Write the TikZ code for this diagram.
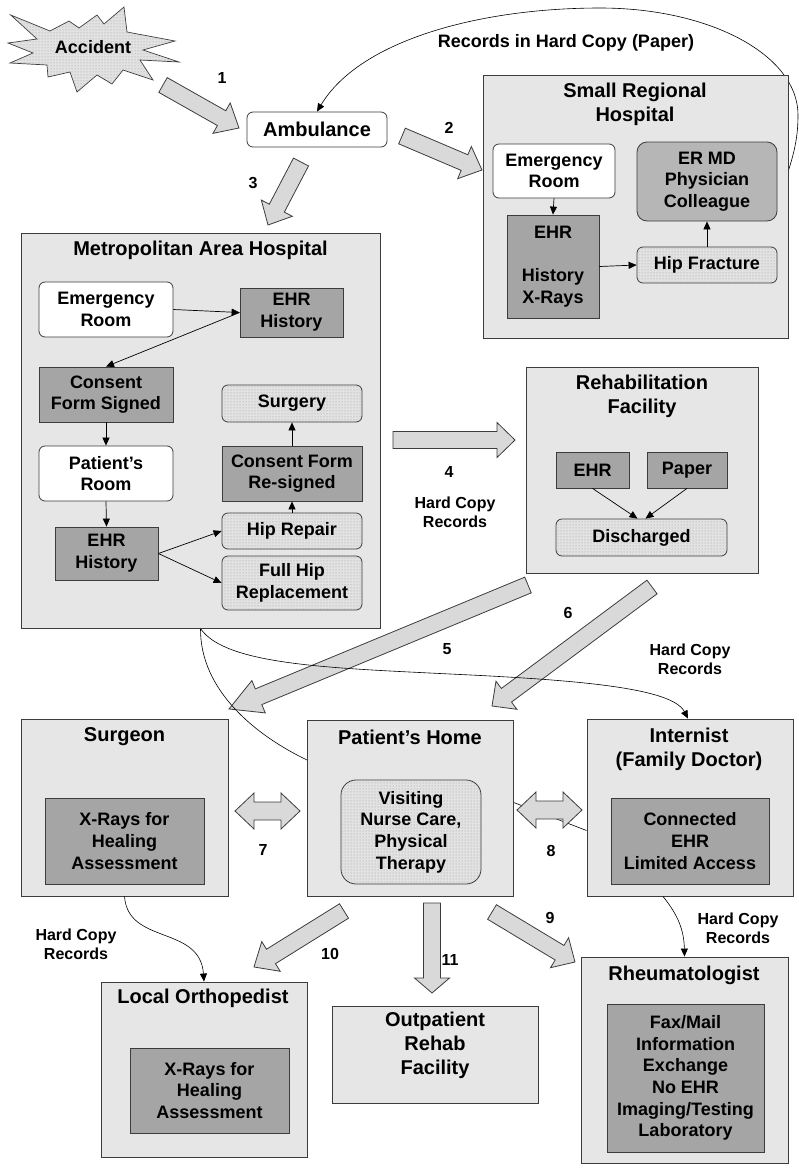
\documentclass[tikz,border=0pt]{standalone}
\usepackage{fontspec}
\setmainfont{Liberation Sans}
\usetikzlibrary{arrows.meta,calc,patterns}
\pgfdeclarelayer{bg}
\pgfdeclarelayer{mid}
\pgfsetlayers{bg,mid,main}
\definecolor{boxfill}{RGB}{230,230,230}
\definecolor{darkfill}{RGB}{165,165,165}
\definecolor{midfill}{RGB}{182,182,182}
\definecolor{dotfill}{RGB}{226,226,226}
\definecolor{arrfill}{RGB}{217,217,217}
\definecolor{edge}{RGB}{60,60,60}
\newcommand\ftitle{\fontsize{20}{24}\selectfont\bfseries}
\newcommand\finner{\fontsize{18}{21.7}\selectfont\bfseries}
\newcommand\flabel{\fontsize{16}{19}\selectfont\bfseries}
\newcommand\barrow[3]{%
 \draw[blockarr] let \p1=(#1), \p2=(#2), \n1={atan2(\y2-\y1,\x2-\x1)}, \n2={veclen(\x2-\x1,\y2-\y1)} in
  ([ba]0,8.5) -- ([ba]\n2-#3,8.5) -- ([ba]\n2-#3,17.5) -- ([ba]\n2,0) -- ([ba]\n2-#3,-17.5) -- ([ba]\n2-#3,-8.5) -- ([ba]0,-8.5) -- cycle;}
\newcommand\dbarrow[3]{%
 \draw[blockarr] let \p1=(#1), \p2=(#2), \n1={atan2(\y2-\y1,\x2-\x1)}, \n2={veclen(\x2-\x1,\y2-\y1)} in
  ([ba]0,0) -- ([ba]#3,18) -- ([ba]#3,9) -- ([ba]\n2-#3,9) -- ([ba]\n2-#3,18) -- ([ba]\n2,0) -- ([ba]\n2-#3,-18) -- ([ba]\n2-#3,-9) -- ([ba]#3,-9) -- ([ba]#3,-18) -- cycle;}
\begin{document}
\begin{tikzpicture}[x=1pt,y=-1pt,
  every node/.style={font=\finner},
  ba/.style={shift={(\p1)},rotate=\n1},
  corners/.style args={#1/#2/#3/#4}{at={({(#1+#3)/2},{(#2+#4)/2})},
     minimum width={(#3-#1)*1pt}, minimum height={(#4-#2)*1pt}},
  blockarr/.style={draw=edge, line width=0.8pt, fill=arrfill, line join=miter},
  outer/.style={draw=edge, line width=0.9pt, fill=boxfill, inner sep=0pt},
  whitebox/.style={draw=edge, line width=0.8pt, fill=white, rounded corners=6pt, inner sep=0pt, align=center},
  darkbox/.style={draw=edge, line width=0.8pt, fill=darkfill, inner sep=0pt, align=center},
  midbox/.style={draw=edge, line width=0.8pt, fill=midfill, rounded corners=10pt, inner sep=0pt, align=center},
  dotbox/.style={draw=edge, line width=0.8pt, fill=dotfill, rounded corners=6pt, inner sep=0pt, align=center,
     postaction={pattern=dots, pattern color=gray!80}},
  ttl/.style={font=\ftitle, align=center, inner sep=0pt},
  lbl/.style={font=\flabel, align=center, inner sep=0pt},
  conn/.style={line width=0.7pt, -{Triangle[length=8pt,width=7pt]}},
  curve/.style={line width=0.6pt}
]
\useasboundingbox (0,0) rectangle (799,1173);

% ---------- Accident ----------
\draw[line width=0.7pt, draw=edge, fill=dotfill, postaction={pattern=dots, pattern color=gray!80}]
 (10.7,15) -- (50,31) -- (69,21) -- (79,28) -- (97,15) -- (104,24) -- (124,7) -- (127,32) -- (175,41) -- (143,50)
 -- (179,62) -- (140,60) -- (153,80) -- (123,70) -- (112,84) -- (97,75) -- (77,92) -- (70,72) -- (48,77)
 -- (47,65) -- (10,63) -- (33,53) -- (8,43) -- (37,39) -- cycle;
\node[font=\finner] (acc) at (93,47) {Accident};

% ---------- coordinates of block arrows ----------
\coordinate (a1s) at (163,85);  \coordinate (a1e) at (239,128);
\coordinate (a2s) at (402,136); \coordinate (a2e) at (482,170);
\coordinate (a3s) at (301,162); \coordinate (a3e) at (268,225);
\coordinate (a4s) at (393,440); \coordinate (a4e) at (515,440);
\coordinate (a5s) at (528,585); \coordinate (a5e) at (229,709);
\coordinate (a6s) at (652,587); \coordinate (a6e) at (492,706);
\coordinate (a7s) at (235,811); \coordinate (a7e) at (300,811);
\coordinate (a8s) at (517,810); \coordinate (a8e) at (582,810);
\coordinate (a9s) at (492,912); \coordinate (a9e) at (575,962);
\coordinate (a10s) at (344,911); \coordinate (a10e) at (254,967);
\coordinate (a11s) at (432,903); \coordinate (a11e) at (432,993);

\barrow{a1s}{a1e}{20}
\barrow{a2s}{a2e}{19}
\barrow{a3s}{a3e}{19}
\barrow{a4s}{a4e}{18}
\begin{pgfonlayer}{bg}
\barrow{a5s}{a5e}{32}
\barrow{a6s}{a6e}{18}
\end{pgfonlayer}

% ---------- boxes ----------
\node[whitebox, font=\ftitle, corners=247/112/387/147] (amb) {Ambulance};

\node[outer, corners=483/75/788/338] (srh) {};
\node[ttl] (srhT) at (635,104.7) {Small Regional\\Hospital};
\node[whitebox, corners=493/144/615/198] (srhER) {Emergency\\Room};
\node[darkbox, corners=507/215/599/318] (srhEHR) {EHR\\\mbox{}\\History\\X-Rays};
\node[midbox, corners=637/142/777/221] (srhMD) {ER MD\\Physician\\Colleague};
\node[dotbox, corners=637/247/777/283] (srhHip) {Hip Fracture};

\node[outer, corners=21/233/380/628] (metro) {};
\node[ttl] (metroT) at (200.5,250) {Metropolitan Area Hospital};
\node[whitebox, corners=39/282/173/337] (mER) {Emergency\\Room};
\node[darkbox, corners=240/288/343/337] (mEHR1) {EHR\\History};
\node[darkbox, corners=39/367/173/422] (mCons) {Consent\\Form Signed};
\node[whitebox, corners=39/446/173/501] (mPR) {Patient’s\\Room};
\node[darkbox, corners=55/527/158/580] (mEHR2) {EHR\\History};
\node[dotbox, corners=222/385/362/422] (mSurg) {Surgery};
\node[darkbox, corners=222/446/362/501] (mCons2) {Consent Form\\Re-signed};
\node[dotbox, corners=222/513/362/549] (mHipR) {Hip Repair};
\node[dotbox, corners=222/556/362/610] (mFull) {Full Hip\\Replacement};

\node[outer, corners=526/367/758/573] (rehab) {};
\node[ttl] (rehabT) at (642,396) {Rehabilitation\\Facility};
\node[darkbox, corners=556/452/629/488] (rEHR) {EHR};
\node[darkbox, corners=647/452/727/488] (rPap) {Paper};
\node[dotbox, corners=556/519/727/556] (rDis) {Discharged};

\node[outer, corners=21/719/228/896] (surg) {};
\node[ttl] (surgT) at (124.5,737) {Surgeon};
\node[darkbox, corners=45/798/204/884] (surgX) {X-Rays for\\Healing\\Assessment};

\node[outer, corners=307/720/513/896] (home) {};
\node[ttl] (homeT) at (410,737) {Patient’s Home};
\node[dotbox, rounded corners=15pt, corners=341/780/481/884] (homeV) {Visiting\\Nurse Care,\\Physical\\Therapy};

\node[outer, corners=587/719/793/896] (intern) {};
\node[ttl] (internT) at (689,749.5) {Internist\\(Family Doctor)};
\node[darkbox, corners=611/798/769/884] (internC) {Connected\\EHR\\Limited Access};

\node[outer, corners=101/982/307/1157] (ortho) {};
\node[ttl] (orthoT) at (203,998) {Local Orthopedist};
\node[darkbox, corners=130/1048/289/1133] (orthoX) {X-Rays for\\Healing\\Assessment};

\node[outer, corners=332/1006/538/1103] (outp) {};
\node[ttl] (outpT) at (435,1045.5) {Outpatient\\Rehab\\Facility};

\node[outer, corners=581/957/788/1163] (rheum) {};
\node[ttl] (rheumT) at (684,975) {Rheumatologist};
\node[darkbox, corners=607/1004/764/1152] (rheumF) {Fax/Mail\\Information\\Exchange\\No EHR\\Imaging/Testing\\Laboratory};

% ---------- long curves (behind boxes, above arrows 5/6) ----------
\begin{pgfonlayer}{mid}
\draw[curve] (metro.south) .. controls (200,690) and (255,735) .. (307,760)
   .. controls (380,800) and (460,782) .. (515,803) -- ([yshift=-23pt]intern.west);
\draw[curve, -{Triangle[length=8pt,width=7pt]}] (metro.south) .. controls (225,665) and (330,668) .. (450,674)
   .. controls (580,680) and (672,688) .. ([xshift=-2pt]intern.north);
\draw[curve, -{Triangle[length=8pt,width=7pt]}] ([yshift=36pt]srh.east) .. controls (795,150) and (798,135) .. (798,115)
   .. controls (798,55) and (710,8) .. (600,8) .. controls (480,8) and (360,40) .. (amb.north);
\end{pgfonlayer}

% ---------- remaining block arrows ----------
\dbarrow{a7s}{a7e}{19}
\dbarrow{a8s}{a8e}{19}
\barrow{a9s}{a9e}{18}
\barrow{a10s}{a10e}{20}
\barrow{a11s}{a11e}{15}

% ---------- inner connectors ----------
\draw[conn] (srhER.south) -- (srhEHR.north);
\draw[conn] (srhEHR.east) -- (srhHip.west);
\draw[conn] (srhHip.north) -- (srhMD.south);
\draw[conn] (mER.east) -- (mEHR1.west);
\draw[conn] (mEHR1.west) -- (mCons.north);
\draw[conn] (mCons.south) -- (mPR.north);
\draw[conn] (mPR.south) -- (mEHR2.north);
\draw[conn] (mEHR2.east) -- (mHipR.west);
\draw[conn] (mEHR2.east) -- (mFull.west);
\draw[conn] (mHipR.north) -- (mCons2.south);
\draw[conn] (mCons2.north) -- (mSurg.south);
\draw[conn] (rEHR.south) -- ([xshift=-4pt]rDis.north);
\draw[conn] (rPap.south) -- ([xshift=4pt]rDis.north);
\draw[curve, -{Triangle[length=8pt,width=7pt]}] (surg.south) .. controls (128,945) and (200,925) .. (ortho.north);
\draw[curve, -{Triangle[length=8pt,width=7pt]}] ([xshift=-27pt]intern.south) .. controls (678,915) and (684,930) .. (rheum.north);

% ---------- labels ----------
\node[lbl] (n1) at (222,78) {1};
\node[lbl] (n2) at (449,128) {2};
\node[lbl] (n3) at (253,183) {3};
\node[lbl] (n4) at (449,472) {4};
\node[lbl] (n5) at (447,649) {5};
\node[lbl] (n6) at (568,613) {6};
\node[lbl] (n7) at (263,850) {7};
\node[lbl] (n8) at (551,851) {8};
\node[lbl] (n9) at (550,918) {9};
\node[lbl] (n10) at (330,954) {10};
\node[lbl] (n11) at (450,960) {11};
\node[font=\finner, inner sep=0pt] (rec) at (566,43) {Records in Hard Copy (Paper)};
\node[lbl] (hc1) at (455,512.5) {Hard Copy\\Records};
\node[lbl] (hc2) at (690,659) {Hard Copy\\Records};
\node[lbl] (hc3) at (76,944.5) {Hard Copy\\Records};
\node[lbl] (hc4) at (738,928.5) {Hard Copy\\Records};
\end{tikzpicture}
\end{document}
